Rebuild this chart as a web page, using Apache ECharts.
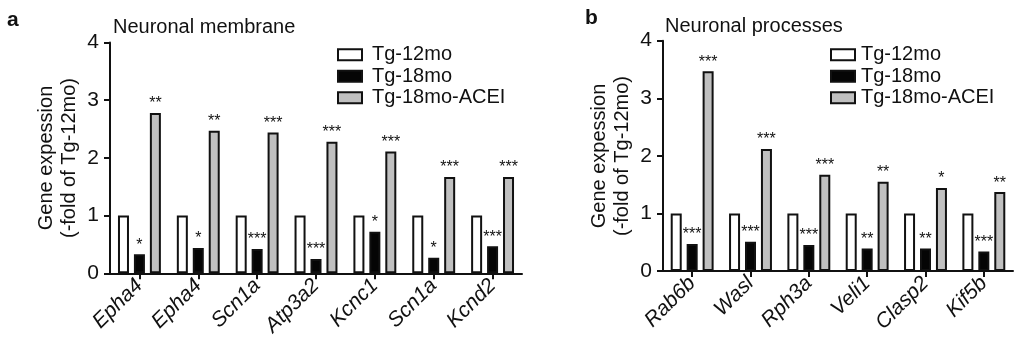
<!DOCTYPE html>
<html>
<head>
<meta charset="utf-8">
<script src="https://cdn.jsdelivr.net/npm/echarts@6/dist/echarts.min.js"></script>
<style>
html,body{margin:0;padding:0;background:#fff;}
#c{width:1024px;height:342px;}
</style>
</head>
<body>
<div id="c"></div>
<script>
// ---- data ----
const seriesNames = ['Tg-12mo', 'Tg-18mo', 'Tg-18mo-ACEI'];

const catsA = ['Epha4', 'Epha4', 'Scn1a', 'Atp3a2', 'Kcnc1', 'Scn1a', 'Kcnd2'];
const tg12A = [1, 1, 1, 1, 1, 1, 1];
const tg18A = [0.33, 0.44, 0.42, 0.25, 0.72, 0.27, 0.47];
const aceiA = [2.78, 2.47, 2.44, 2.28, 2.11, 1.67, 1.67];
const sig18A = ['*', '*', '***', '***', '*', '*', '***'];
const sigAceiA = ['**', '**', '***', '***', '***', '***', '***'];

const catsB = ['Rab6b', 'Wasl', 'Rph3a', 'Veli1', 'Clasp2', 'Kif5b'];
const tg12B = [1, 1, 1, 1, 1, 1];
const tg18B = [0.47, 0.51, 0.45, 0.39, 0.39, 0.34];
const aceiB = [3.47, 2.12, 1.67, 1.55, 1.44, 1.37];
const sig18B = ['***', '***', '***', '**', '**', '***'];
const sigAceiB = ['***', '***', '***', '**', '*', '**'];

const panelTitles = ['Neuronal membrane', 'Neuronal processes'];
const panelLetters = ['a', 'b'];
const yTitle = 'Gene expession\n(-fold of Tg-12mo)';
const yMin = 0, yMax = 4, yStep = 1;

// ---- styles ----
const FONT = "'Liberation Sans', Arial, sans-serif";
const INK = '#111';
const fills = ['#ffffff', '#050505', '#c0c0c0'];

const chart = echarts.init(document.getElementById('c'), null, {renderer: 'canvas'});

function xAxisFor(idx, cats) {
  return {
    type: 'category', gridIndex: idx, data: cats,
    axisLine: {lineStyle: {color: INK, width: 2}},
    axisTick: {show: true, alignWithLabel: true, length: 6, lineStyle: {color: INK, width: 2}},
    axisLabel: {rotate: 45, fontStyle: 'italic', fontSize: 21, fontFamily: FONT, color: INK, margin: 9, interval: 0}
  };
}
function yAxisFor(idx) {
  return {
    type: 'value', gridIndex: idx, min: yMin, max: yMax, interval: yStep,
    splitLine: {show: false},
    axisLine: {show: true, lineStyle: {color: INK, width: 2}},
    axisTick: {show: true, length: 6, lineStyle: {color: INK, width: 2}},
    axisLabel: {fontSize: 21, fontFamily: FONT, color: INK, margin: 11}
  };
}
function barSeries(name, data, fillIdx, axisIdx, sig) {
  const s = {
    name: name, type: 'bar', xAxisIndex: axisIdx, yAxisIndex: axisIdx,
    data: data, barWidth: 11, barGap: '45%',
    itemStyle: {color: fills[fillIdx], borderColor: INK, borderWidth: 2},
    emphasis: {disabled: true},
    animation: false
  };
  if (sig) {
    s.label = {
      show: true, position: 'top', distance: 1,
      fontSize: 16, fontFamily: FONT, color: INK,
      formatter: p => sig[p.dataIndex]
    };
  }
  return s;
}

const option = {
  backgroundColor: '#fff',
  animation: false,
  grid: [
    {left: 110, right: 1024 - 522, top: 42.5, bottom: 342 - 273.3},
    {left: 663, right: 1024 - 1013, top: 40.7, bottom: 342 - 271}
  ],
  xAxis: [xAxisFor(0, catsA), xAxisFor(1, catsB)],
  yAxis: [yAxisFor(0), yAxisFor(1)],
  legend: [
    {
      orient: 'vertical', left: 332, top: 39, itemWidth: 24, itemHeight: 11, itemGap: 0,
      textStyle: {fontSize: 20, fontFamily: FONT, color: INK, lineHeight: 21.5, padding: [0, 0, 0, 5]},
      data: seriesNames.map(n => ({name: n, icon: 'rect'})),
      selectedMode: false
    },
    {
      orient: 'vertical', left: 825, top: 39, itemWidth: 24, itemHeight: 11, itemGap: 0,
      textStyle: {fontSize: 20, fontFamily: FONT, color: INK, lineHeight: 21.5, padding: [0, 0, 0, 1]},
      data: seriesNames.map(n => ({name: n, icon: 'rect'})),
      selectedMode: false
    }
  ],
  series: [
    barSeries(seriesNames[0], tg12A, 0, 0, null),
    barSeries(seriesNames[1], tg18A, 1, 0, sig18A),
    barSeries(seriesNames[2], aceiA, 2, 0, sigAceiA),
    barSeries(seriesNames[0], tg12B, 0, 1, null),
    barSeries(seriesNames[1], tg18B, 1, 1, sig18B),
    barSeries(seriesNames[2], aceiB, 2, 1, sigAceiB)
  ],
  graphic: [
    {type: 'text', left: 7, top: 10, style: {text: panelLetters[0], font: 'bold 21px ' + FONT, fill: INK}},
    {type: 'text', left: 585, top: 8, style: {text: panelLetters[1], font: 'bold 21px ' + FONT, fill: INK}},
    {type: 'text', left: 113, top: 17, style: {text: panelTitles[0], font: '20px ' + FONT, fill: INK}},
    {type: 'text', left: 665, top: 16, style: {text: panelTitles[1], font: '20px ' + FONT, fill: INK}},
    {type: 'text', x: 58, y: 158, rotation: Math.PI / 2,
     style: {text: yTitle, font: '20px ' + FONT, fill: INK, align: 'center', verticalAlign: 'middle', lineHeight: 23}},
    {type: 'text', x: 611, y: 156, rotation: Math.PI / 2,
     style: {text: yTitle, font: '20px ' + FONT, fill: INK, align: 'center', verticalAlign: 'middle', lineHeight: 23}}
  ]
};
chart.setOption(option);
</script>
</body>
</html>
